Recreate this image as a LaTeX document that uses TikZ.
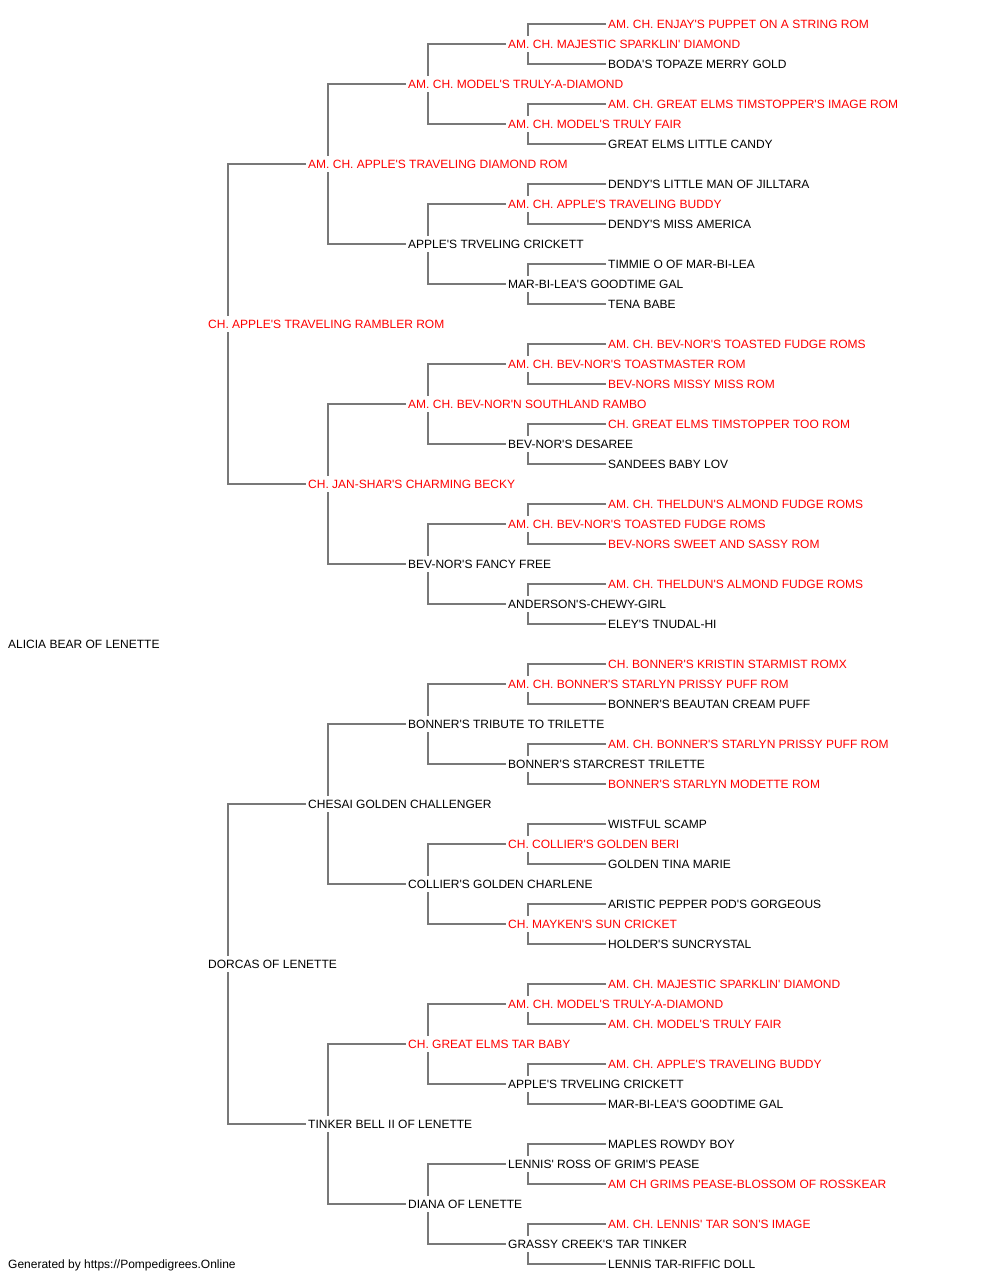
\documentclass[tikz,border=0pt]{standalone}
\usepackage{fontspec}
\setmainfont{Liberation Sans}[Ligatures=TeXOff]
\usetikzlibrary{backgrounds}

\begin{document}
\begin{tikzpicture}[x=1pt, y=-1pt,
  dog/.style={anchor=west, fill=white, inner xsep=0pt, inner ysep=4pt,
    text height=8.6pt, text depth=0pt, yshift=-0.8pt,
    font=\fontsize{12}{14}\selectfont},
  champ/.style={dog, text=red},
  link/.style={draw=black!53, line width=1.5pt}]
\useasboundingbox (0,0) rectangle (1000,1280);
% generations 0 to 2
\node[dog] (p32) at (8,643) {ALICIA BEAR OF LENETTE};
\node[champ] (p16) at (208,323) {CH. APPLE'S TRAVELING RAMBLER ROM};
\node[dog] (p48) at (208,963) {DORCAS OF LENETTE};
\node[champ] (p8) at (308,163) {AM. CH. APPLE'S TRAVELING DIAMOND ROM};
\node[champ] (p24) at (308,483) {CH. JAN-SHAR'S CHARMING BECKY};
\node[dog] (p40) at (308,803) {CHESAI GOLDEN CHALLENGER};
\node[dog] (p56) at (308,1123) {TINKER BELL II OF LENETTE};
% generation 3
\node[champ] (p4) at (408,83) {AM. CH. MODEL'S TRULY-A-DIAMOND};
\node[dog] (p12) at (408,243) {APPLE'S TRVELING CRICKETT};
\node[champ] (p20) at (408,403) {AM. CH. BEV-NOR'N SOUTHLAND RAMBO};
\node[dog] (p28) at (408,563) {BEV-NOR'S FANCY FREE};
\node[dog] (p36) at (408,723) {BONNER'S TRIBUTE TO TRILETTE};
\node[dog] (p44) at (408,883) {COLLIER'S GOLDEN CHARLENE};
\node[champ] (p52) at (408,1043) {CH. GREAT ELMS TAR BABY};
\node[dog] (p60) at (408,1203) {DIANA OF LENETTE};
% generation 4
\node[champ] (p2) at (508,43) {AM. CH. MAJESTIC SPARKLIN' DIAMOND};
\node[champ] (p6) at (508,123) {AM. CH. MODEL'S TRULY FAIR};
\node[champ] (p10) at (508,203) {AM. CH. APPLE'S TRAVELING BUDDY};
\node[dog] (p14) at (508,283) {MAR-BI-LEA'S GOODTIME GAL};
\node[champ] (p18) at (508,363) {AM. CH. BEV-NOR'S TOASTMASTER ROM};
\node[dog] (p22) at (508,443) {BEV-NOR'S DESAREE};
\node[champ] (p26) at (508,523) {AM. CH. BEV-NOR'S TOASTED FUDGE ROMS};
\node[dog] (p30) at (508,603) {ANDERSON'S-CHEWY-GIRL};
\node[champ] (p34) at (508,683) {AM. CH. BONNER'S STARLYN PRISSY PUFF ROM};
\node[dog] (p38) at (508,763) {BONNER'S STARCREST TRILETTE};
\node[champ] (p42) at (508,843) {CH. COLLIER'S GOLDEN BERI};
\node[champ] (p46) at (508,923) {CH. MAYKEN'S SUN CRICKET};
\node[champ] (p50) at (508,1003) {AM. CH. MODEL'S TRULY-A-DIAMOND};
\node[dog] (p54) at (508,1083) {APPLE'S TRVELING CRICKETT};
\node[dog] (p58) at (508,1163) {LENNIS' ROSS OF GRIM'S PEASE};
\node[dog] (p62) at (508,1243) {GRASSY CREEK'S TAR TINKER};
% generation 5
\node[champ] (p1) at (608,23) {AM. CH. ENJAY'S PUPPET ON A STRING ROM};
\node[dog] (p3) at (608,63) {BODA'S TOPAZE MERRY GOLD};
\node[champ] (p5) at (608,103) {AM. CH. GREAT ELMS TIMSTOPPER'S IMAGE ROM};
\node[dog] (p7) at (608,143) {GREAT ELMS LITTLE CANDY};
\node[dog] (p9) at (608,183) {DENDY'S LITTLE MAN OF JILLTARA};
\node[dog] (p11) at (608,223) {DENDY'S MISS AMERICA};
\node[dog] (p13) at (608,263) {TIMMIE O OF MAR-BI-LEA};
\node[dog] (p15) at (608,303) {TENA BABE};
\node[champ] (p17) at (608,343) {AM. CH. BEV-NOR'S TOASTED FUDGE ROMS};
\node[champ] (p19) at (608,383) {BEV-NORS MISSY MISS ROM};
\node[champ] (p21) at (608,423) {CH. GREAT ELMS TIMSTOPPER TOO ROM};
\node[dog] (p23) at (608,463) {SANDEES BABY LOV};
\node[champ] (p25) at (608,503) {AM. CH. THELDUN'S ALMOND FUDGE ROMS};
\node[champ] (p27) at (608,543) {BEV-NORS SWEET AND SASSY ROM};
\node[champ] (p29) at (608,583) {AM. CH. THELDUN'S ALMOND FUDGE ROMS};
\node[dog] (p31) at (608,623) {ELEY'S TNUDAL-HI};
\node[champ] (p33) at (608,663) {CH. BONNER'S KRISTIN STARMIST ROMX};
\node[dog] (p35) at (608,703) {BONNER'S BEAUTAN CREAM PUFF};
\node[champ] (p37) at (608,743) {AM. CH. BONNER'S STARLYN PRISSY PUFF ROM};
\node[champ] (p39) at (608,783) {BONNER'S STARLYN MODETTE ROM};
\node[dog] (p41) at (608,823) {WISTFUL SCAMP};
\node[dog] (p43) at (608,863) {GOLDEN TINA MARIE};
\node[dog] (p45) at (608,903) {ARISTIC PEPPER POD'S GORGEOUS};
\node[dog] (p47) at (608,943) {HOLDER'S SUNCRYSTAL};
\node[champ] (p49) at (608,983) {AM. CH. MAJESTIC SPARKLIN' DIAMOND};
\node[champ] (p51) at (608,1023) {AM. CH. MODEL'S TRULY FAIR};
\node[champ] (p53) at (608,1063) {AM. CH. APPLE'S TRAVELING BUDDY};
\node[dog] (p55) at (608,1103) {MAR-BI-LEA'S GOODTIME GAL};
\node[dog] (p57) at (608,1143) {MAPLES ROWDY BOY};
\node[champ] (p59) at (608,1183) {AM CH GRIMS PEASE-BLOSSOM OF ROSSKEAR};
\node[champ] (p61) at (608,1223) {AM. CH. LENNIS' TAR SON'S IMAGE};
\node[dog] (p63) at (608,1263) {LENNIS TAR-RIFFIC DOLL};
\node[dog] (footer) at (8,1263) {Generated by https://Pompedigrees.Online};
% sire and dam links, parent row / offset
\begin{scope}[on background layer]
\foreach \p/\d in {16/8, 48/8, 8/4, 24/4, 40/4, 56/4,
    4/2, 12/2, 20/2, 28/2, 36/2, 44/2, 52/2, 60/2,
    2/1, 6/1, 10/1, 14/1, 18/1, 22/1, 26/1, 30/1,
    34/1, 38/1, 42/1, 46/1, 50/1, 54/1, 58/1, 62/1} {
  \pgfmathtruncatemacro\s{\p-\d}
  \pgfmathtruncatemacro\m{\p+\d}
  \draw[link] ([xshift=-2pt]p\s.west) -| ([xshift=20pt]p\p.west)
    |- ([xshift=-2pt]p\m.west);
}
\end{scope}
\end{tikzpicture}
\end{document}
